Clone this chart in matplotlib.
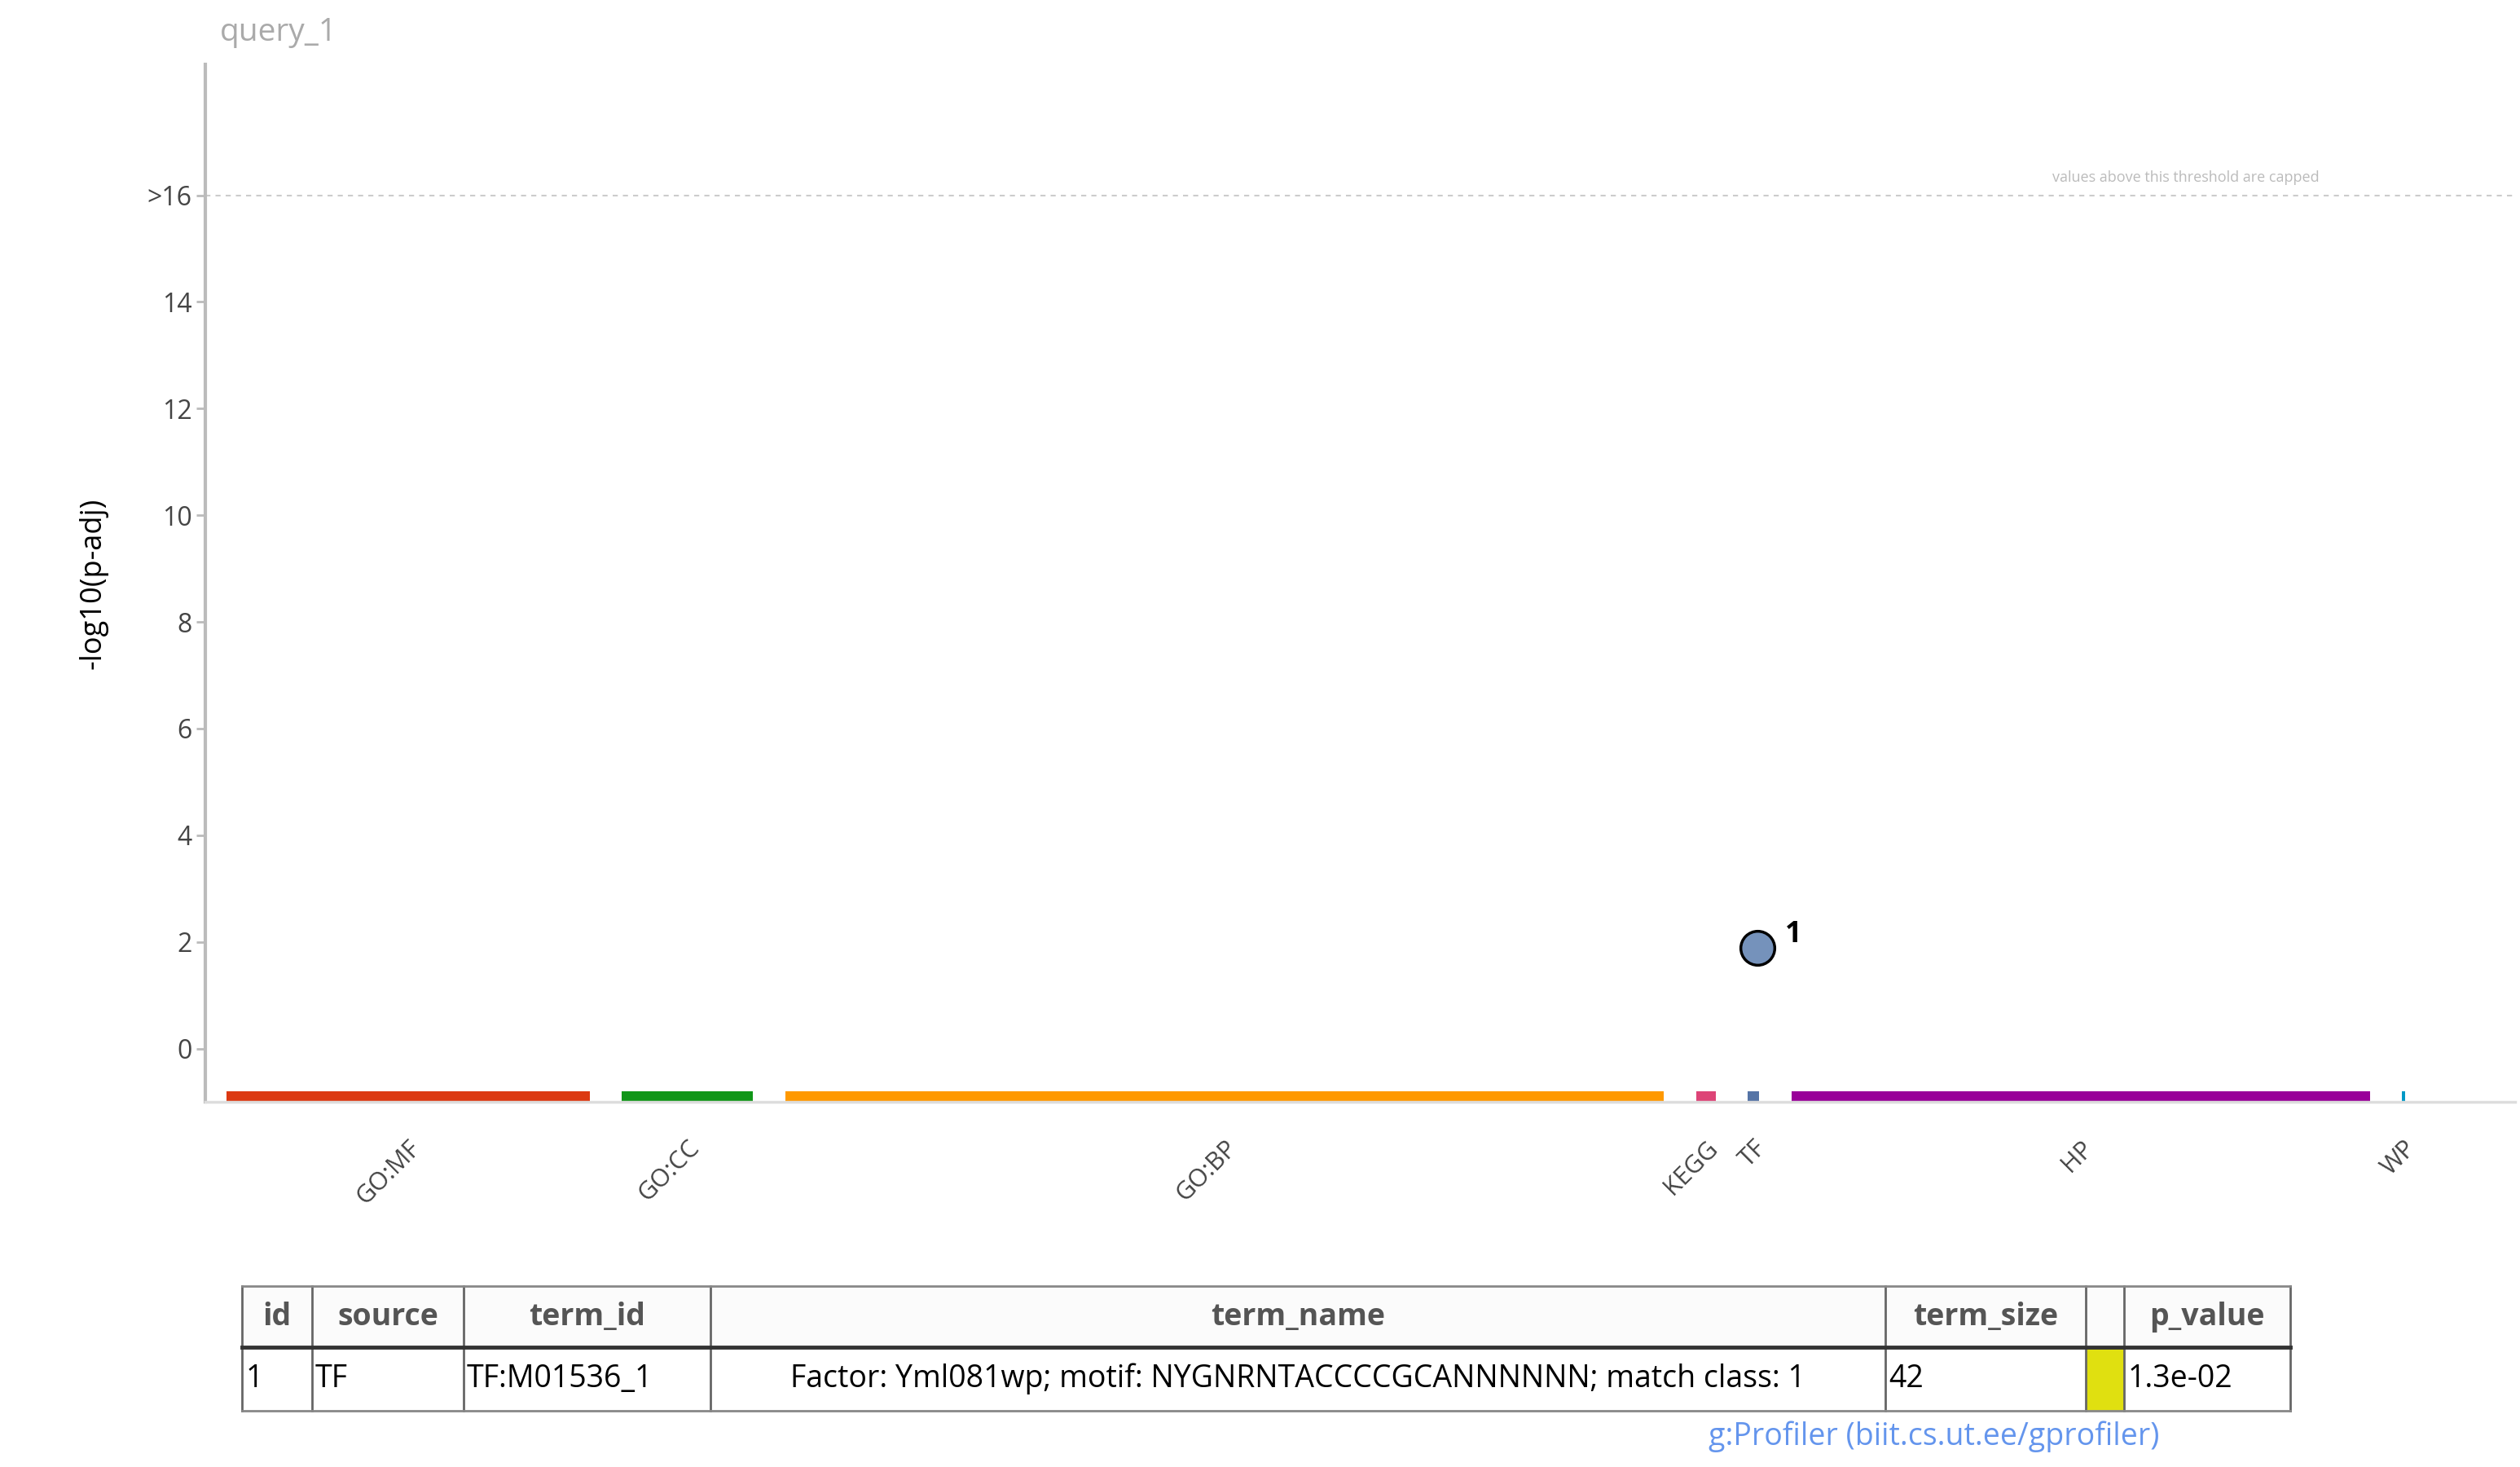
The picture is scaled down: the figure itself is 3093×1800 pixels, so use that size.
import matplotlib.pyplot as plt
from matplotlib.patches import Rectangle
import numpy as np

plt.rcParams['font.family'] = ['Open Sans', 'DejaVu Sans']

# sources along the x axis (position in term index space)
sources = ["GO:MF", "GO:CC", "GO:BP", "KEGG", "TF", "HP", "WP"]
src_start = [140, 385, 486, 1050, 1082, 1109, 1487]
src_end = [365, 466, 1030, 1062, 1089, 1467, 1489]
src_colors = ["#dc3912", "#109618", "#ff9900", "#dd4477", "#5574a6", "#990099", "#0099c6"]

# significant terms
term_x = [1088]
term_p = [1.3e-2]
term_ids = [1]

# table
col_names = ["id", "source", "term_id", "term_name", "term_size", "", "p_value"]
row_vals = ["1", "TF", "TF:M01536_1", "Factor: Yml081wp; motif: NYGNRNTACCCCGCANNNNNN; match class: 1", "42", "", "1.3e-02"]
col_edges = [150, 193, 287, 440, 1167, 1291, 1315, 1418]

S = 3093 / 1560  # display px -> figure px
fig = plt.figure(figsize=(30.93, 18), dpi=100)
W, H = 1560, 908
ax = fig.add_axes([127 / W, 1 - 682 / H, (1557 - 127) / W, (682 - 40) / H])
ax.set_xlim(127, 1557)
ax.set_ylim(-1.0, 18.45)

for s, e, c in zip(src_start, src_end, src_colors):
    ax.add_patch(Rectangle((s, -1.0), max(e - s, 2), 0.2, color=c, lw=0))

y = -np.log10(term_p)
ax.scatter(term_x, y, s=900, color="#7592bb", edgecolor="black", linewidth=2.5, zorder=3)
for xi, yi, t in zip(term_x, y, term_ids):
    ax.text(xi + 17, yi + 0.25, str(t), fontsize=26, fontweight="bold", va="center")

ax.axhline(16, color="#cccccc", ls=(0, (3, 3)), lw=1.5)
ax.text(1353, 16.2, "values above this threshold are capped", fontsize=13, color="#bbbbbb", ha="center", va="bottom")

ax.set_yticks([0, 2, 4, 6, 8, 10, 12, 14, 16])
ax.set_yticklabels(["0", "2", "4", "6", "8", "10", "12", "14", ">16"])
centers = [(s + e) / 2 for s, e in zip(src_start, src_end)]
ax.set_xticks(centers)
ax.set_xticklabels(sources, rotation=45, ha="right", va="top", rotation_mode="anchor")
ax.tick_params(axis="y", labelsize=23, labelcolor="#444444", color="#bbbbbb", length=8, width=2)
ax.tick_params(axis="x", labelsize=22, labelcolor="#444444", length=0, pad=30)
for sp in ["top", "right"]:
    ax.spines[sp].set_visible(False)
ax.spines["left"].set_color("#bbbbbb")
ax.spines["left"].set_linewidth(3)
ax.spines["bottom"].set_color("#dddddd")
ax.spines["bottom"].set_linewidth(2.5)
ax.set_ylabel("-log10(p-adj)", fontsize=26, labelpad=35)
fig.text(136 / W, 1 - 20 / H, "query_1", fontsize=28, color="#aaaaaa", va="center")

# table overlay
tx = fig.add_axes([0, 0, 1, 1])
tx.set_xlim(0, W)
tx.set_ylim(H, 0)
tx.axis("off")
top, mid, bot = 796, 834, 873
tx.add_patch(Rectangle((col_edges[0], top), col_edges[-1] - col_edges[0], mid - top, color="#fbfbfb", lw=0))
tx.add_patch(Rectangle((col_edges[5], mid), col_edges[6] - col_edges[5], bot - mid, color="#e0e010", lw=0))
for xe in col_edges:
    tx.plot([xe, xe], [top, bot], color="#666666", lw=2)
tx.plot([col_edges[0], col_edges[-1]], [top, top], color="#888888", lw=2)
tx.plot([col_edges[0], col_edges[-1]], [mid, mid], color="#333333", lw=3.5)
tx.plot([col_edges[0], col_edges[-1]], [bot, bot], color="#888888", lw=2)
for i, (h, v) in enumerate(zip(col_names, row_vals)):
    l, r = col_edges[i], col_edges[i + 1]
    tx.text((l + r) / 2, (top + mid) / 2, h, fontsize=27, fontweight="bold", color="#555555", ha="center", va="center")
    if i == 3:
        tx.text((l + r) / 2, (mid + bot) / 2, v, fontsize=27, ha="center", va="center")
    else:
        tx.text(l + 2, (mid + bot) / 2, v, fontsize=27, ha="left", va="center")
tx.text(1197, 889, "g:Profiler (biit.cs.ut.ee/gprofiler)", fontsize=27, color="#6495ed", ha="center", va="center")

fig.savefig("out.png", dpi=100)
